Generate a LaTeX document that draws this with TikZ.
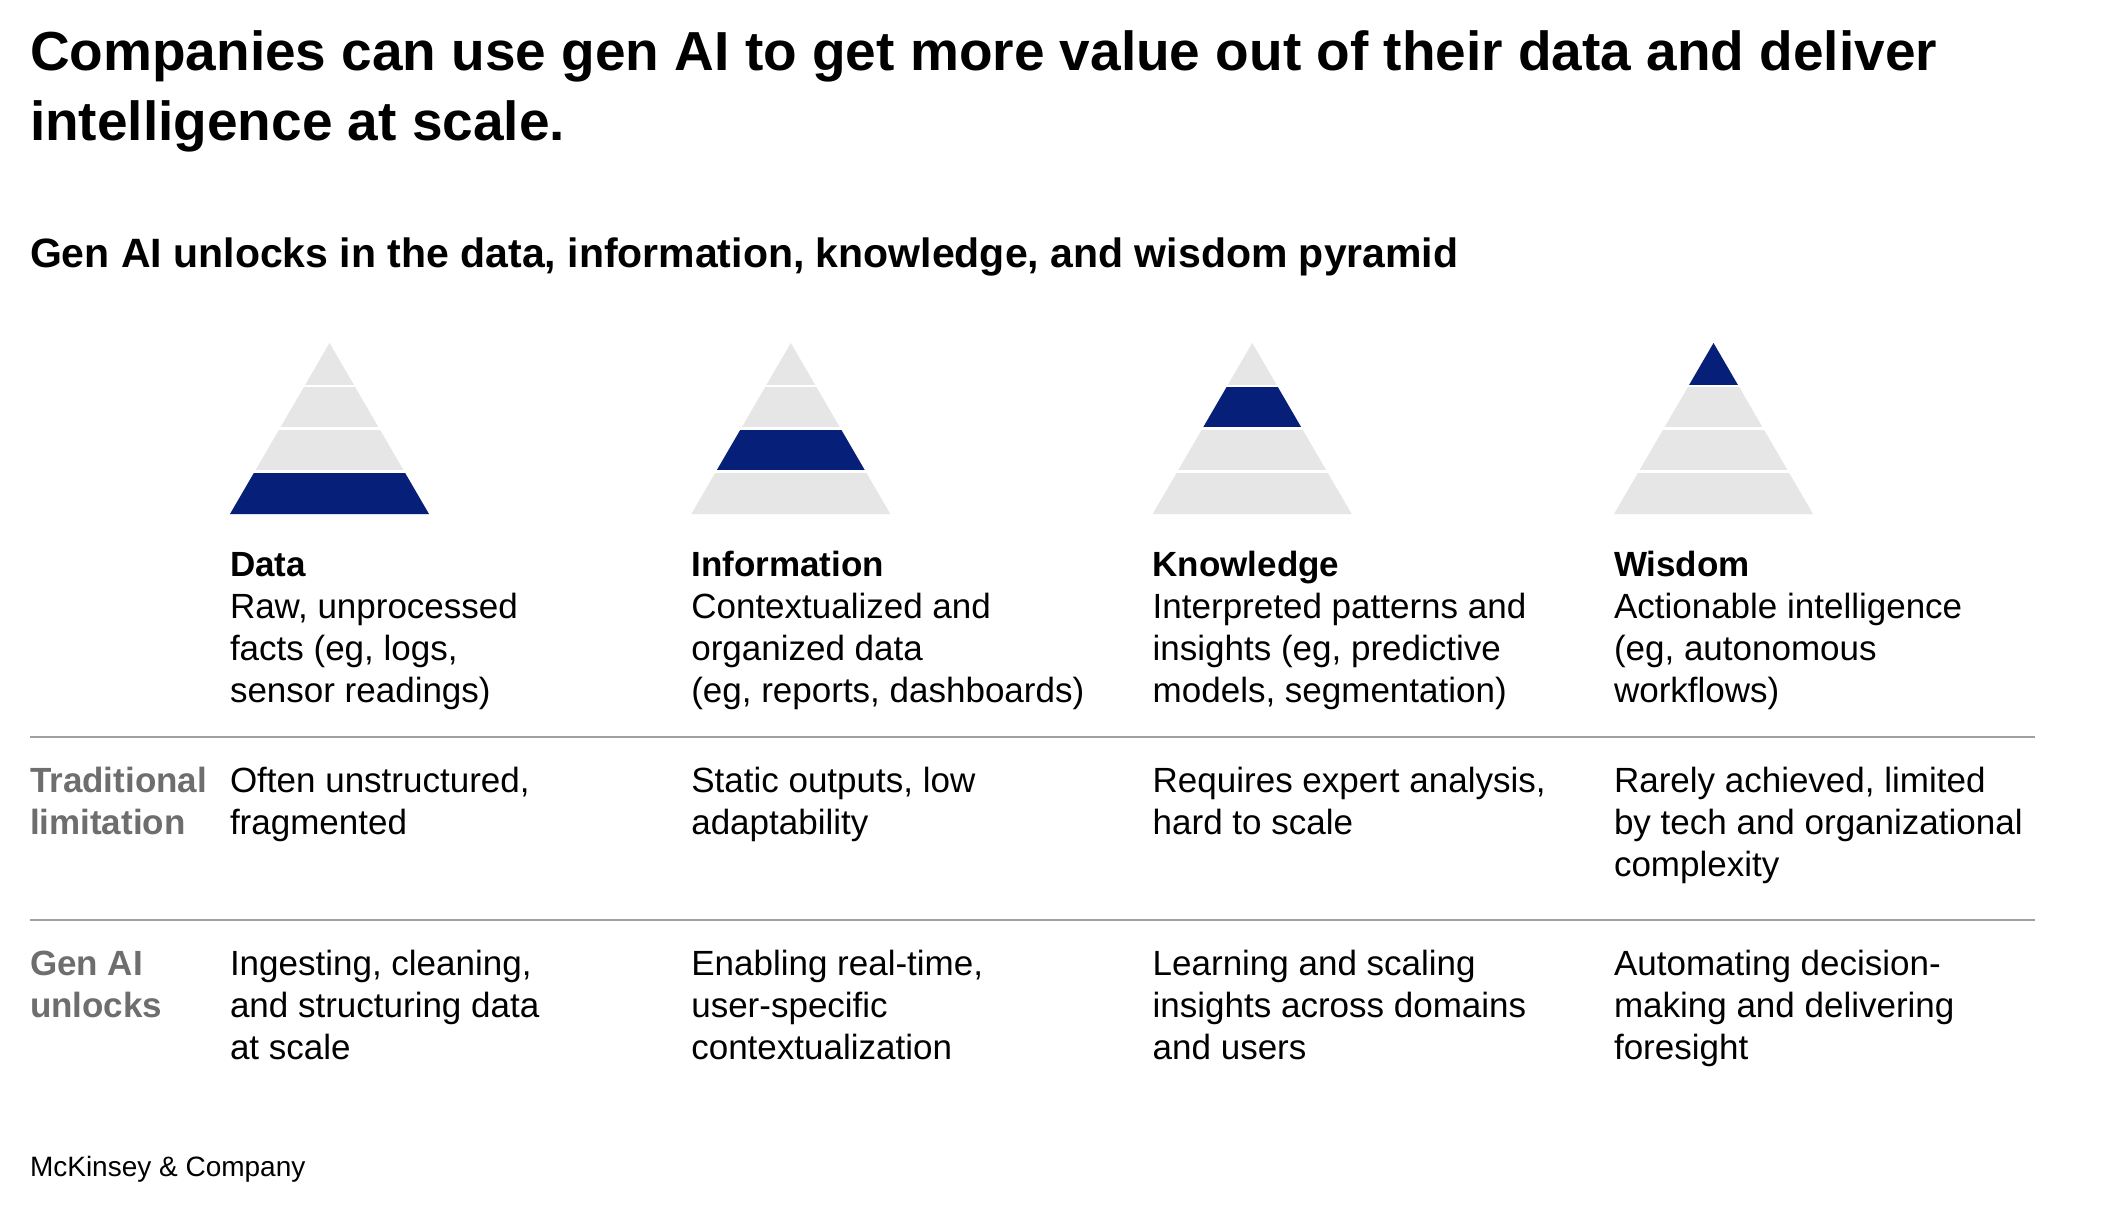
\documentclass[tikz,border=0pt]{standalone}
\usepackage{fontspec}
\setmainfont{Liberation Sans}
\definecolor{navy}{RGB}{6,31,121}
\definecolor{pgray}{RGB}{230,230,230}
\definecolor{rulegray}{RGB}{160,160,160}
\definecolor{labgray}{RGB}{110,110,110}
\newcommand\blk[1]{\begin{tabular}[t]{@{}l@{}}#1\end{tabular}}
\newcommand\pyramid[3]{%
  \begin{scope}[shift={(#1,0)}]
    \fill[pgray] (0,343) -- (99.5,514) -- (-99.5,514) -- cycle;
    \ifcase#2\or
      \fill[navy] (-74.625,471.25) -- (74.625,471.25) -- (99.5,514) -- (-99.5,514) -- cycle;\or
      \fill[navy] (-49.75,428.5) -- (49.75,428.5) -- (74.625,471.25) -- (-74.625,471.25) -- cycle;\or
      \fill[navy] (-24.875,385.75) -- (24.875,385.75) -- (49.75,428.5) -- (-49.75,428.5) -- cycle;\or
      \fill[navy] (0,343) -- (24.875,385.75) -- (-24.875,385.75) -- cycle;\fi
    \foreach \yy/\ww in {385.75/24.875,428.5/49.75,471.25/74.625}
      \draw[sepline] (-\ww-3,\yy) -- (\ww+3,\yy);
    \coordinate (#3) at (0,343);
  \end{scope}}
\tikzset{
  sepline/.style={white, line width=2.5pt},
  txt/.style={anchor=base west, inner sep=0pt, outer sep=0pt},
  body/.style={txt, font=\fontsize{35}{42}\selectfont, text=black},
  rowlab/.style={txt, font=\fontsize{35}{42}\selectfont\bfseries, text=labgray},
  hrule/.style={draw=rulegray, line width=2pt},
}
\begin{document}
\begin{tikzpicture}[x=1pt,y=-1pt]
\useasboundingbox[fill=white] (0,0) rectangle (2124,1227);

\node[txt, font=\fontsize{55}{70}\selectfont\bfseries] (title) at (30,70)
  {\blk{Companies can use gen AI to get more value out of their data and deliver\\intelligence at scale.}};
\node[txt, font=\fontsize{41}{50}\selectfont\bfseries] (subtitle) at (30,267)
  {Gen AI unlocks in the data, information, knowledge, and wisdom pyramid};

\pyramid{329.5}{1}{p1}
\pyramid{790.8}{2}{p2}
\pyramid{1252.2}{3}{p3}
\pyramid{1713.5}{4}{p4}

\node[body] (h1) at (230,576) {\blk{\textbf{Data}\\Raw, unprocessed\\facts (eg, logs,\\sensor readings)}};
\node[body] (h2) at (691.3,576) {\blk{\textbf{Information}\\Contextualized and\\organized data\\(eg, reports, dashboards)}};
\node[body] (h3) at (1152.7,576) {\blk{\textbf{Knowledge}\\Interpreted patterns and\\insights (eg, predictive\\models, segmentation)}};
\node[body] (h4) at (1614,576) {\blk{\textbf{Wisdom}\\Actionable intelligence\\(eg, autonomous\\workflows)}};

\coordinate (r1a) at (30,737);
\coordinate (r1b) at (2035,737);
\coordinate (r2a) at (30,920);
\coordinate (r2b) at (2035,920);
\draw[hrule] (r1a) -- (r1b);
\draw[hrule] (r2a) -- (r2b);

\node[rowlab] (lab1) at (30,792) {\blk{Traditional\\limitation}};
\node[body] (t1) at (230,792) {\blk{Often unstructured,\\fragmented}};
\node[body] (t2) at (691.3,792) {\blk{Static outputs, low\\adaptability}};
\node[body] (t3) at (1152.7,792) {\blk{Requires expert analysis,\\hard to scale}};
\node[body] (t4) at (1614,792) {\blk{Rarely achieved, limited\\by tech and organizational\\complexity}};

\node[rowlab] (lab2) at (30,975) {\blk{Gen AI\\unlocks}};
\node[body] (g1) at (230,975) {\blk{Ingesting, cleaning,\\and structuring data\\at scale}};
\node[body] (g2) at (691.3,975) {\blk{Enabling real-time,\\user-specific\\contextualization}};
\node[body] (g3) at (1152.7,975) {\blk{Learning and scaling\\insights across domains\\and users}};
\node[body] (g4) at (1614,975) {\blk{Automating decision-\\making and delivering\\foresight}};

\node[txt, font=\fontsize{28}{34}\selectfont] (footer) at (30,1176) {McKinsey \& Company};
\end{tikzpicture}
\end{document}
